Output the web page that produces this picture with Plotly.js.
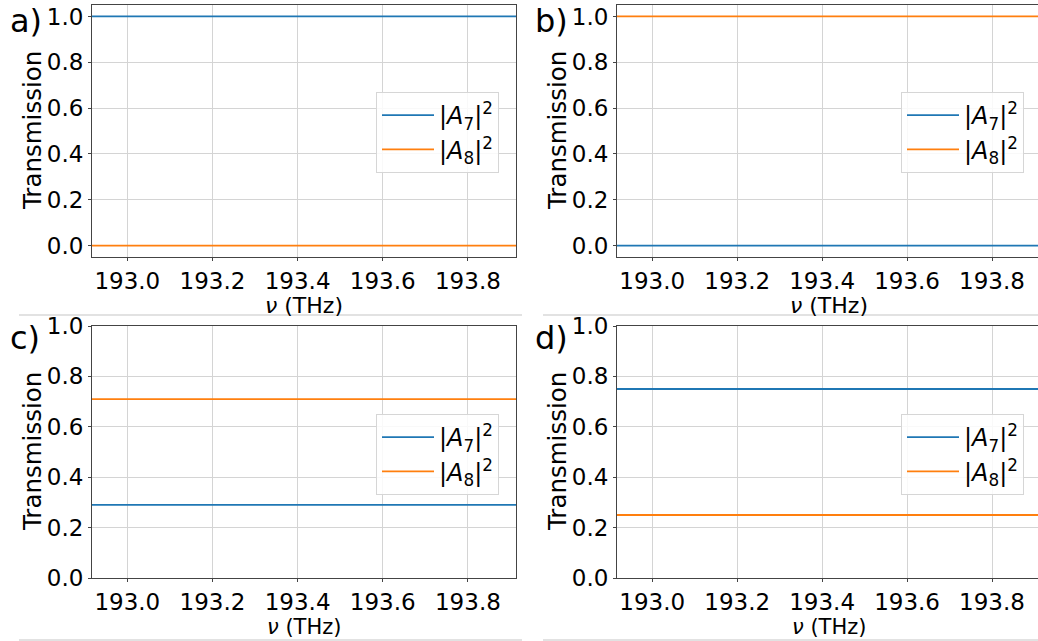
<!DOCTYPE html>
<html>
<head>
<meta charset="utf-8">
<script src="https://cdn.plot.ly/plotly-3.0.1.min.js"></script>
<style>
html,body{margin:0;padding:0;overflow:hidden;background:#fff;}
#chart{width:1042px;height:641px;}
</style>
</head>
<body>
<div id="chart"></div>
<script>
// ---- data ----
var freq = [192.917, 193.913];            // THz, x extent of the curves
var panelLabels = ['a)', 'b)', 'c)', 'd)'];
var seriesNames = ['|<i>A</i><sub>7</sub>|<sup>2</sup>', '|<i>A</i><sub>8</sub>|<sup>2</sup>'];
var a7 = [1.0, 0.0, 0.29, 0.75];          // |A7|^2 per panel
var a8 = [0.0, 1.0, 0.71, 0.25];          // |A8|^2 per panel
var xTicks = [193.0, 193.2, 193.4, 193.6, 193.8];
var yTicks = [0.0, 0.2, 0.4, 0.6, 0.8, 1.0];
var yRanges = [[-0.05, 1.05], [-0.05, 1.05], [0, 1], [0, 1]];
var xTitle = '<i>ν</i> (THz)';
var yTitle = 'Transmission';

// ---- layout geometry (pixels) ----
var W = 1042, H = 641;
var colX = [[92, 516], [617, 1040]];
var rowY = [[5, 257], [326, 578]];
var xTitleOffset = [48, 49];
var xTitleSize = [22, 21];
var FONT = 'DejaVu Sans, Verdana, sans-serif';
var BLUE = '#1f77b4', ORANGE = '#ff7f0e';
var FS = 23;

function px2x(p){ return p / W; }
function px2y(p){ return (H - p) / H; }

var traces = [];
var layout = {
  width: W, height: H,
  margin: {l:0, r:0, t:0, b:0},
  paper_bgcolor: '#ffffff',
  plot_bgcolor: '#ffffff',
  font: {family: FONT, size: FS, color: '#000'},
  showlegend: true,
  annotations: [],
  shapes: []
};

for (var i = 0; i < 4; i++) {
  var col = i % 2, row = Math.floor(i / 2);
  var sfx = i === 0 ? '' : String(i + 1);
  var legName = 'legend' + sfx;
  traces.push({
    x: freq, y: [a7[i], a7[i]], mode: 'lines', name: seriesNames[0],
    line: {color: BLUE, width: 1.8},
    xaxis: 'x' + sfx, yaxis: 'y' + sfx, legend: legName, hoverinfo: 'skip'
  });
  traces.push({
    x: freq, y: [a8[i], a8[i]], mode: 'lines', name: seriesNames[1],
    line: {color: ORANGE, width: 1.8},
    xaxis: 'x' + sfx, yaxis: 'y' + sfx, legend: legName, hoverinfo: 'skip'
  });

  var axCommon = {
    showline: true, mirror: true, linecolor: '#444', linewidth: 1,
    showgrid: true, gridcolor: '#d4d4d4', gridwidth: 1,
    zeroline: false, ticks: 'outside', ticklen: 3, tickwidth: 1, tickcolor: '#444',
    tickfont: {family: FONT, size: FS, color: '#000'},
    automargin: false
  };
  layout['xaxis' + sfx] = Object.assign({}, axCommon, {
    domain: [px2x(colX[col][0]), px2x(colX[col][1])],
    anchor: 'y' + sfx,
    range: [freq[0], freq[1]],
    tickvals: xTicks, tickformat: '.1f'
  });
  layout['yaxis' + sfx] = Object.assign({}, axCommon, {
    domain: [px2y(rowY[row][1]), px2y(rowY[row][0])],
    anchor: 'x' + sfx,
    range: yRanges[i],
    tickvals: yTicks, tickformat: '.1f'
  });

  // axis titles
  layout.annotations.push({
    text: xTitle, xref: 'paper', yref: 'paper',
    x: px2x((colX[col][0] + colX[col][1]) / 2), y: px2y(rowY[row][1] + xTitleOffset[row]),
    xanchor: 'center', yanchor: 'middle', showarrow: false, borderpad: 0,
    font: {family: FONT, size: xTitleSize[row], color: '#000'}
  });
  layout.annotations.push({
    text: yTitle, xref: 'paper', yref: 'paper', textangle: -90,
    x: px2x(colX[col][0] - 60), y: px2y((rowY[row][0] + rowY[row][1]) / 2),
    xanchor: 'center', yanchor: 'middle', showarrow: false, borderpad: 0,
    font: {family: FONT, size: 24.5, color: '#000'}
  });

  var legTop = row === 0 ? 92 : 414;
  var legLeft = col === 0 ? 376 : 901;
  layout[legName] = {
    x: px2x(legLeft), y: px2y(legTop), xanchor: 'left', yanchor: 'top',
    xref: 'paper', yref: 'paper',
    bgcolor: 'rgba(255,255,255,0.85)', bordercolor: '#d6d6d6', borderwidth: 1,
    font: {family: FONT, size: 24, color: '#000'},
    itemwidth: 52, tracegroupgap: 0
  };

  layout.annotations.push({
    text: panelLabels[i], xref: 'paper', yref: 'paper',
    x: px2x(col === 0 ? 8 : 533), y: px2y(row === 0 ? 21 : 338),
    xanchor: 'left', yanchor: 'middle', showarrow: false,
    font: {family: FONT, size: 32, color: '#000'}
  });
}

// separators between the image rows
var sepY = [315, 640];
sepY.forEach(function(yy){
  layout.shapes.push({type:'line', xref:'paper', yref:'paper',
    x0: px2x(19), x1: px2x(522), y0: px2y(yy), y1: px2y(yy),
    line:{color:'#d9d9d9', width:1.5}});
  layout.shapes.push({type:'line', xref:'paper', yref:'paper',
    x0: px2x(543), x1: px2x(1040), y0: px2y(yy), y1: px2y(yy),
    line:{color:'#d9d9d9', width:1.5}});
});

Plotly.newPlot('chart', traces, layout, {displayModeBar: false, staticPlot: true});
</script>
</body>
</html>
